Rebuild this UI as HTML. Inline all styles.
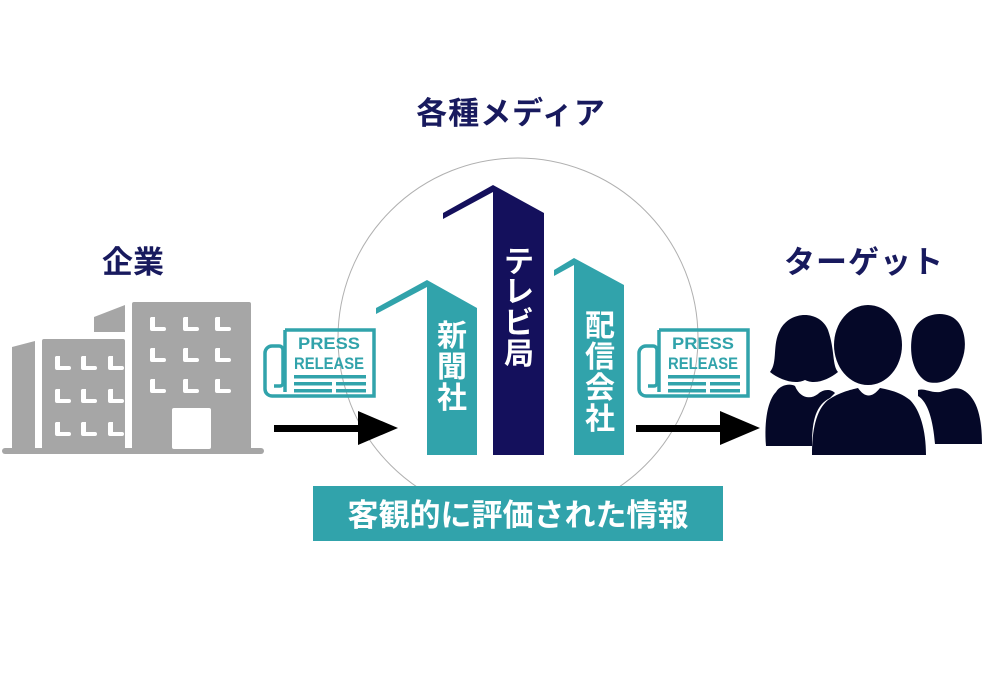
<!DOCTYPE html>
<html><head><meta charset="utf-8"><style>
html,body{margin:0;padding:0;background:#fff;width:1000px;height:676px;overflow:hidden}
text{font-family:"Liberation Sans","Noto Sans CJK JP",sans-serif;font-weight:bold}
</style></head><body>
<svg width="1000" height="676" viewBox="0 0 1000 676" xmlns="http://www.w3.org/2000/svg">
<defs>
<g id="pr">
<path d="M21 4 H110 V70 H8 A7 7 0 0 1 1 63 V27 A7 7 0 0 1 8 20 H15 A4 4 0 0 1 19 24 V57 A3 3 0 0 1 16 60 H10" fill="none" stroke="#31a3ab" stroke-width="3.5"/>
<path d="M21 4 V66" fill="none" stroke="#31a3ab" stroke-width="3.5"/>
<text x="65" y="23" text-anchor="middle" font-size="17" fill="#31a3ab" textLength="62" lengthAdjust="spacingAndGlyphs">PRESS</text>
<text x="65" y="43" text-anchor="middle" font-size="17" fill="#31a3ab" textLength="70" lengthAdjust="spacingAndGlyphs">RELEASE</text>
<rect x="30" y="49" width="72" height="3.5" fill="#31a3ab"/>
<rect x="30" y="56" width="38" height="3.5" fill="#31a3ab"/>
<rect x="72" y="56" width="30" height="3.5" fill="#31a3ab"/>
<rect x="30" y="63" width="38" height="3.5" fill="#31a3ab"/>
<rect x="72" y="63" width="30" height="3.5" fill="#31a3ab"/>
</g>
<g id="win"><path d="M1 0 H5 V10 H14 A2 2 0 0 1 14 14 H2 A2 2 0 0 1 0 12 V1 Z" fill="#fff"/></g>
</defs>

<circle cx="518" cy="338" r="180" fill="none" stroke="#b0b0b0" stroke-width="1"/>

<text x="511" y="124" text-anchor="middle" font-size="31" fill="#181a5e" letter-spacing="1">各種メディア</text>
<text x="133" y="273" text-anchor="middle" font-size="31" fill="#181a5e">企業</text>
<text x="864" y="273" text-anchor="middle" font-size="31" fill="#181a5e" letter-spacing="1">ターゲット</text>

<g fill="#a6a6a6">
<path d="M12 347 L35 341 V453 H12 Z"/>
<rect x="42" y="339" width="83" height="114" rx="2"/>
<path d="M94 317 L125 305 V332 H94 Z"/>
<rect x="132" y="302" width="119" height="151" rx="2"/>
<rect x="2" y="448" width="262" height="6" rx="3"/>
</g>
<rect x="172" y="408" width="39" height="41" fill="#fff" rx="2"/>
<g>
<use href="#win" x="150" y="317"/><use href="#win" x="183" y="317"/><use href="#win" x="215" y="317"/>
<use href="#win" x="150" y="348"/><use href="#win" x="183" y="348"/><use href="#win" x="215" y="348"/>
<use href="#win" x="150" y="379"/><use href="#win" x="183" y="379"/><use href="#win" x="215" y="379"/>
<use href="#win" x="55" y="356"/><use href="#win" x="81" y="356"/><use href="#win" x="108" y="356"/>
<use href="#win" x="55" y="389"/><use href="#win" x="81" y="389"/><use href="#win" x="108" y="389"/>
<use href="#win" x="55" y="422"/><use href="#win" x="81" y="422"/><use href="#win" x="108" y="422"/>
</g>

<use href="#pr" x="264" y="326"/>
<use href="#pr" x="638" y="326"/>

<rect x="274" y="425" width="92" height="7" fill="#000"/>
<path d="M358 411 L398 428 L358 445 Z" fill="#000"/>
<rect x="636" y="425" width="92" height="7" fill="#000"/>
<path d="M720 411 L760 428 L720 445 Z" fill="#000"/>

<path d="M376 308 L427 280 L477 308 V455 H427 V287 L376 314 Z" fill="#31a3ab"/>
<path d="M443 213 L493 185 L544 213 V455 H493 V192 L443 219 Z" fill="#14105c"/>
<path d="M554 270 L574 258 L624 285 V455 H574 V265 L554 276 Z" fill="#31a3ab"/>
<g font-size="30" fill="#fff" text-anchor="middle">
<text x="452" y="346">新</text><text x="452" y="377">聞</text><text x="452" y="408">社</text>
<text x="519" y="272">テ</text><text x="519" y="302">レ</text><text x="519" y="333">ビ</text><text x="519" y="364">局</text>
<text x="600" y="336">配</text><text x="600" y="367">信</text><text x="600" y="398">会</text><text x="600" y="429">社</text>
</g>

<rect x="313" y="486" width="410" height="55" fill="#31a3ab"/>
<text x="518" y="526" text-anchor="middle" font-size="31" fill="#fff">客観的に評価された情報</text>

<g fill="#050828">
<path d="M780 330 C790 310 820 310 828 330 C835 350 832 365 838 372 C828 380 815 385 805 380 C795 385 780 380 770 372 C778 362 772 345 780 330 Z"/>
<path d="M776 392 C780 385 790 383 795 386 C800 398 810 400 818 394 C822 390 830 388 835 393 L830 398 C816 405 812 420 812 445 L812 446 H766 C764 420 768 400 776 392 Z"/>
<ellipse cx="868" cy="345" rx="34" ry="40"/>
<path d="M828 400 C840 392 850 390 858 388 C865 398 872 398 880 388 C890 390 900 392 910 400 C920 410 926 430 926 455 H812 C812 430 816 410 828 400 Z"/>
<path d="M912 336 C915 318 935 310 950 316 C965 322 968 345 962 360 C956 380 940 385 928 382 C918 378 908 362 912 336 Z"/>
<path d="M918 390 C925 388 930 393 940 392 C948 390 955 386 963 390 C978 398 982 420 982 444 H935 C933 420 928 402 918 396 Z"/>
</g>
</svg>
</body></html>
